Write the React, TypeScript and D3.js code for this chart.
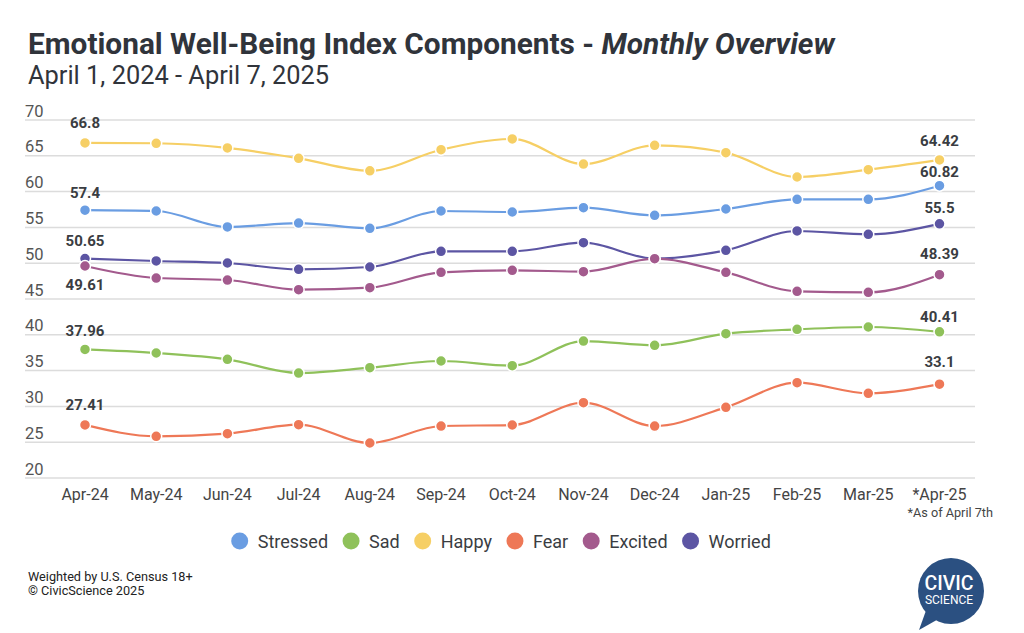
import React, { useEffect, useRef } from "react";
import * as d3 from "d3";

const months = ["Apr-24","May-24","Jun-24","Jul-24","Aug-24","Sep-24","Oct-24","Nov-24","Dec-24","Jan-25","Feb-25","Mar-25","*Apr-25"];
const yTicks = [20,25,30,35,40,45,50,55,60,65,70];

const stressed = [57.4,57.29,55.06,55.6,54.87,57.29,57.15,57.75,56.68,57.57,58.92,58.92,60.82];
const sad = [37.96,37.46,36.57,34.66,35.41,36.34,35.69,39.13,38.53,40.16,40.76,41.09,40.41];
const happy = [66.8,66.75,66.1,64.65,62.9,65.85,67.35,63.85,66.46,65.44,62.04,63.06,64.42];
const fear = [27.41,25.82,26.19,27.45,24.89,27.26,27.4,30.52,27.26,29.87,33.31,31.83,33.1];
const excited = [49.61,47.93,47.65,46.3,46.58,48.72,49.0,48.82,50.63,48.72,46.07,45.93,48.39];
const worried = [50.65,50.31,50.03,49.14,49.47,51.66,51.66,52.87,50.63,51.8,54.5,54.03,55.5];

const seriesNames = ["Stressed","Sad","Happy","Fear","Excited","Worried"];
const seriesValues = [stressed, sad, happy, fear, excited, worried];
const seriesColors = ["#6a9de2","#8fc15a","#f6cf65","#ee7857","#a35a8d","#5c55a3"];

const W = 1024, H = 633;

export default function App() {
  const ref = useRef<SVGSVGElement>(null);
  useEffect(() => {
    const svg = d3.select(ref.current);
    svg.selectAll("*").remove();
    const font = "Roboto, sans-serif";
    const x = d3.scalePoint<string>().domain(months).range([85, 939.5]);
    const y = d3.scaleLinear().domain([20, 70]).range([478, 120]);

    svg.append("rect").attr("width", W).attr("height", H).attr("fill", "#fff");

    // Title
    const t = svg.append("text").attr("x", 28).attr("y", 54).attr("font-family", font)
      .attr("font-size", 29.8).attr("font-weight", 700).attr("fill", "#30343b");
    t.append("tspan").text("Emotional Well-Being Index Components - ");
    t.append("tspan").attr("font-style", "italic").text("Monthly Overview");
    svg.append("text").attr("x", 28).attr("y", 84).attr("font-family", font)
      .attr("font-size", 25.4).attr("fill", "#30343b").text("April 1, 2024 - April 7, 2025");

    // grid
    const g = svg.append("g");
    g.selectAll("line.grid").data(yTicks).join("line")
      .attr("x1", 25).attr("x2", 975).attr("y1", d => y(d)).attr("y2", d => y(d))
      .attr("stroke", "#dcdcdc").attr("stroke-width", 1.5);
    g.selectAll("text.yt").data(yTicks).join("text")
      .attr("x", 25).attr("y", d => y(d) - 3.5).attr("font-family", font)
      .attr("font-size", 16.5).attr("fill", "#555").text(d => String(d));

    // x labels
    g.selectAll("text.xt").data(months).join("text")
      .attr("x", d => x(d)!).attr("y", 500).attr("text-anchor", "middle")
      .attr("font-family", font).attr("font-size", 16).attr("fill", "#444").text(d => d);
    svg.append("text").attr("x", 993).attr("y", 517).attr("text-anchor", "end")
      .attr("font-family", font).attr("font-size", 12.7).attr("fill", "#444").text("*As of April 7th");

    const line = d3.line<number>().x((_, i) => x(months[i])!).y(d => y(d)).curve(d3.curveMonotoneX);
    const order = [2, 0, 5, 4, 1, 3];
    order.forEach(si => {
      const vals = seriesValues[si];
      g.append("path").attr("d", line(vals)!).attr("fill", "none")
        .attr("stroke", seriesColors[si]).attr("stroke-width", 2.2);
    });
    order.forEach(si => {
      const vals = seriesValues[si];
      g.selectAll(null).data(vals).join("circle")
        .attr("cx", (_, i) => x(months[i])!).attr("cy", d => y(d)).attr("r", 5.5)
        .attr("fill", seriesColors[si]).attr("stroke", "#fff").attr("stroke-width", 1.5);
    });

    // data labels
    const firstOff = [12, 13, 15, 15, -24, 13];
    const lastOff = [9, 10, 14, 17, 16, 11];
    seriesValues.forEach((vals, si) => {
      const n = vals.length;
      [[0, firstOff[si]], [n - 1, lastOff[si]]].forEach(([i, off]) => {
        g.append("text").attr("x", x(months[i])!).attr("y", y(vals[i]) - off)
          .attr("text-anchor", "middle").attr("font-family", font).attr("font-size", 15)
          .attr("font-weight", 700).attr("fill", "#3a3d42").text(String(vals[i]));
      });
    });

    // legend
    const lg = svg.append("g");
    const widths: number[] = [];
    const r = 8.5;
    const entries = seriesNames.map((name, i) => {
      const e = lg.append("g");
      e.append("circle").attr("cx", r).attr("cy", 0).attr("r", r).attr("fill", seriesColors[i]);
      const tx = e.append("text").attr("x", r + 18).attr("y", 6.5).attr("font-family", font)
        .attr("font-size", 18).attr("fill", "#3a3d42").text(name);
      const tw = (tx.node() as SVGTextElement).getComputedTextLength();
      widths.push(r + 18 + tw);
      return e;
    });
    const gap = 14.5;
    const total = widths.reduce((a, b) => a + b, 0) + gap * (widths.length - 1);
    let cx = 501 - total / 2;
    entries.forEach((e, i) => {
      e.attr("transform", `translate(${cx},541)`);
      cx += widths[i] + gap;
    });

    // footer
    svg.append("text").attr("x", 28).attr("y", 581).attr("font-family", font)
      .attr("font-size", 12.7).attr("fill", "#222").text("Weighted by U.S. Census 18+");
    svg.append("text").attr("x", 28).attr("y", 595).attr("font-family", font)
      .attr("font-size", 12.7).attr("fill", "#222").text("© CivicScience 2025");

    // logo
    const logo = svg.append("g");
    const blue = "#2b5081";
    logo.append("path").attr("d", "M928,605 L919,630 L942,617 Z").attr("fill", blue);
    logo.append("circle").attr("cx", 951).attr("cy", 591).attr("r", 33).attr("fill", blue);
    logo.append("text").attr("x", 949).attr("y", 590).attr("text-anchor", "middle")
      .attr("font-family", font).attr("font-size", 19.5).attr("font-weight", 500).attr("fill", "#fff").text("CIVIC");
    logo.append("text").attr("x", 949).attr("y", 604).attr("text-anchor", "middle")
      .attr("font-family", font).attr("font-size", 12).attr("fill", "#fff").text("SCIENCE");
  }, []);
  return <svg ref={ref} width={W} height={H} style={{ display: "block", position: "absolute", left: 0, top: 0 }} />;
}
